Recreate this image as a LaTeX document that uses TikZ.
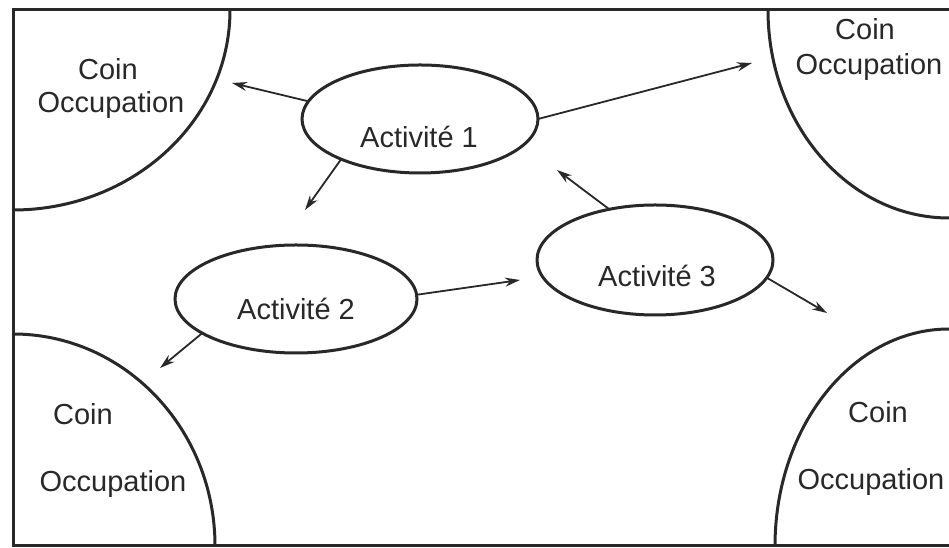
\documentclass[tikz,border=0pt]{standalone}
\usepackage{fontspec}
\setmainfont{Liberation Sans}
\usetikzlibrary{arrows.meta,shapes.geometric}
\definecolor{ink}{RGB}{40,40,40}
\begin{document}
\begin{tikzpicture}[x=1pt,y=1pt,
  frame/.style={line width=3pt, draw=ink},
  act/.style={ellipse, draw=ink, line width=3pt, inner sep=0pt, outer sep=0pt},
  lbl/.style={anchor=base, inner sep=0pt, text=ink, font=\fontsize{29}{34}\selectfont},
  flow/.style={draw=ink, line width=1.8pt, -{Stealth[length=15pt,width=9pt]}}]
\useasboundingbox (0,0) rectangle (949,548);
% frame
\draw[frame] (949,538) -- (13,538) -- (13,2) -- (949,2);
% corners
\draw[frame] (230,538) arc[start angle=0,end angle=-90,x radius=217,y radius=200];
\draw[frame] (768,538) arc[start angle=180,end angle=270,x radius=181,y radius=208];
\draw[frame] (13,214) arc[start angle=90,end angle=0,x radius=202,y radius=212];
\draw[frame] (775,2) arc[start angle=180,end angle=90,x radius=174,y radius=217];
% corner labels
\node[lbl] (tlc) at (108,468) {Coin};
\node[lbl] (tlo) at (111,435) {Occupation};
\node[lbl] (trc) at (865,508) {Coin};
\node[lbl] (tro) at (869,473) {Occupation};
\node[lbl] (blc) at (83,123) {Coin};
\node[lbl] (blo) at (113,56) {Occupation};
\node[lbl] (brc) at (878,125) {Coin};
\node[lbl] (bro) at (871,58) {Occupation};
% activities
\node[act, minimum width=236pt, minimum height=108pt] (a1) at (420,429) {};
\node[act, minimum width=242pt, minimum height=108pt] (a2) at (296,249) {};
\node[act, minimum width=236pt, minimum height=110pt] (a3) at (655,288) {};
\node[lbl] (l1) at (419,400) {Activité 1};
\node[lbl] (l2) at (296,228) {Activité 2};
\node[lbl] (l3) at (657,261) {Activité 3};
% arrow ends
\coordinate (t1) at (232,465);
\coordinate (t2) at (305,338);
\coordinate (t3) at (752,485);
\coordinate (t4) at (520,268);
\coordinate (t5) at (160,180);
\coordinate (t6) at (557,378);
\coordinate (t7) at (827,235);
% arrows
\draw[flow] (a1.171.6) -- (t1);
\draw[flow] (a1.207) -- (t2);
\draw[flow] (a1.0.5) -- (t3);
\draw[flow] (a2.2) -- (t4);
\draw[flow] (a2.200) -- (t5);
\draw[flow] (a3.132) -- (t6);
\draw[flow] (a3.-9.6) -- (t7);
\end{tikzpicture}
\end{document}
